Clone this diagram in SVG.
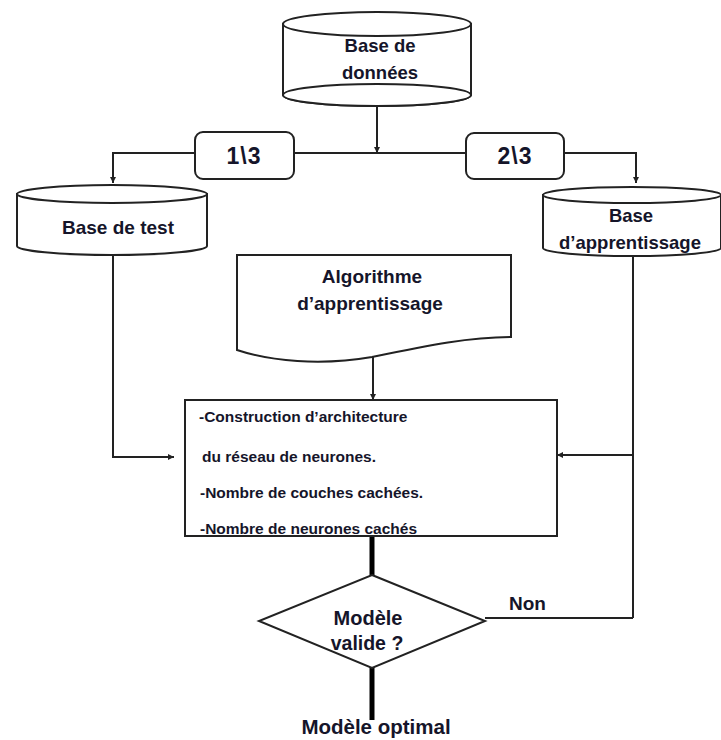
<svg xmlns="http://www.w3.org/2000/svg" width="721" height="740" viewBox="0 0 721 740">
  <style>
    .shape { fill: #ffffff; stroke: #222222; stroke-width: 2; }
    .line { fill: none; stroke: #222222; stroke-width: 2; }
    .thick { fill: none; stroke: #000000; stroke-width: 5; }
    .lbl { font-family: "Liberation Sans", Arial, sans-serif; font-weight: bold; fill: #15152a; text-anchor: middle; }
    .lbl-l { font-family: "Liberation Sans", Arial, sans-serif; font-weight: bold; fill: #15152a; }
  </style>
  <defs>
    <marker id="arrow" viewBox="0 0 10 10" refX="10" refY="5" markerWidth="6" markerHeight="6" orient="auto" markerUnits="userSpaceOnUse">
      <path d="M0,0 L10,5 L0,10 Z" fill="#222222"/>
    </marker>
  </defs>

  <!-- connectors -->
  <g id="connectors">
    <line class="line" x1="377" y1="106" x2="377" y2="153" marker-end="url(#arrow)"/>
    <line class="line" x1="113" y1="153" x2="633" y2="153"/>
    <polyline class="line" points="195,153 113,153 113,183" marker-end="url(#arrow)"/>
    <polyline class="line" points="564,153 636,153 636,183" marker-end="url(#arrow)"/>
    <polyline class="line" points="113,255 113,457 174,457" marker-end="url(#arrow)"/>
    <line class="line" x1="373" y1="357" x2="373" y2="400" marker-end="url(#arrow)"/>
    <line class="line" x1="633" y1="256" x2="633" y2="618"/>
    <line class="line" x1="633" y1="455" x2="557" y2="455" marker-end="url(#arrow)"/>
    <line class="line" x1="485" y1="618" x2="633" y2="618"/>
    <line class="thick" x1="372" y1="536" x2="372" y2="576"/>
    <line class="thick" x1="372" y1="667" x2="372" y2="720"/>
  </g>

  <!-- database cylinder -->
  <g id="base-donnees">
    <path class="shape" d="M283,24 V95 A94,11 0 0 0 471,95 V24 Z"/>
    <ellipse class="shape" cx="377" cy="95" rx="94" ry="11"/>
    <ellipse class="shape" cx="377" cy="24" rx="94" ry="12"/>
    <text class="lbl" x="380" y="52" font-size="18.5">Base de</text>
    <text class="lbl" x="380" y="79" font-size="18.5">données</text>
  </g>

  <!-- split ratio boxes -->
  <g id="ratio-1-3">
    <rect class="shape" x="195" y="132" width="99" height="47" rx="8"/>
    <text class="lbl" x="244" y="164" font-size="23" letter-spacing="1">1\3</text>
  </g>
  <g id="ratio-2-3">
    <rect class="shape" x="466" y="133" width="98" height="46" rx="8"/>
    <text class="lbl" x="515" y="164" font-size="23" letter-spacing="1">2\3</text>
  </g>

  <!-- test set -->
  <g id="base-test">
    <path class="shape" d="M17,194 V246 A95,9 0 0 0 207,246 V194 Z"/>
    <ellipse class="shape" cx="112" cy="194" rx="95" ry="9"/>
    <text class="lbl" x="118" y="234" font-size="19">Base de test</text>
  </g>

  <!-- training set -->
  <g id="base-apprentissage">
    <path class="shape" d="M543,195 V248 A89,8 0 0 0 721,248 V195 Z"/>
    <ellipse class="shape" cx="632" cy="195" rx="89" ry="8"/>
    <text class="lbl" x="631" y="222" font-size="18.5">Base</text>
    <text class="lbl" x="630" y="249" font-size="18.5">d’apprentissage</text>
  </g>

  <!-- learning algorithm document -->
  <g id="algorithme">
    <path class="shape" d="M237,255 H511 V337 C470,337 430,345 372,357 C320,366 270,361 237,350 Z"/>
    <text class="lbl" x="372" y="283" font-size="19">Algorithme</text>
    <text class="lbl" x="370" y="310" font-size="19">d’apprentissage</text>
  </g>

  <!-- network architecture box -->
  <g id="architecture">
    <rect class="shape" x="185" y="400" width="372" height="136"/>
    <text class="lbl-l" x="199" y="422" font-size="15.5">-Construction d’architecture</text>
    <text class="lbl-l" x="202" y="462" font-size="15.5">du réseau de neurones.</text>
    <text class="lbl-l" x="200" y="498" font-size="15.5">-Nombre de couches  cachées.</text>
    <text class="lbl-l" x="200" y="534" font-size="15.5">-Nombre de neurones cachés</text>
  </g>

  <!-- validation decision -->
  <g id="decision">
    <polygon class="shape" points="372,575 485,621 372,668 259,621"/>
    <text class="lbl" x="368" y="625" font-size="20">Modèle</text>
    <text class="lbl" x="367" y="650" font-size="19.5">valide ?</text>
  </g>

  <g id="label-non">
    <text class="lbl-l" x="509" y="610" font-size="19">Non</text>
  </g>

  <g id="modele-optimal">
    <text class="lbl" x="376" y="734" font-size="20.5">Modèle optimal</text>
  </g>
</svg>
